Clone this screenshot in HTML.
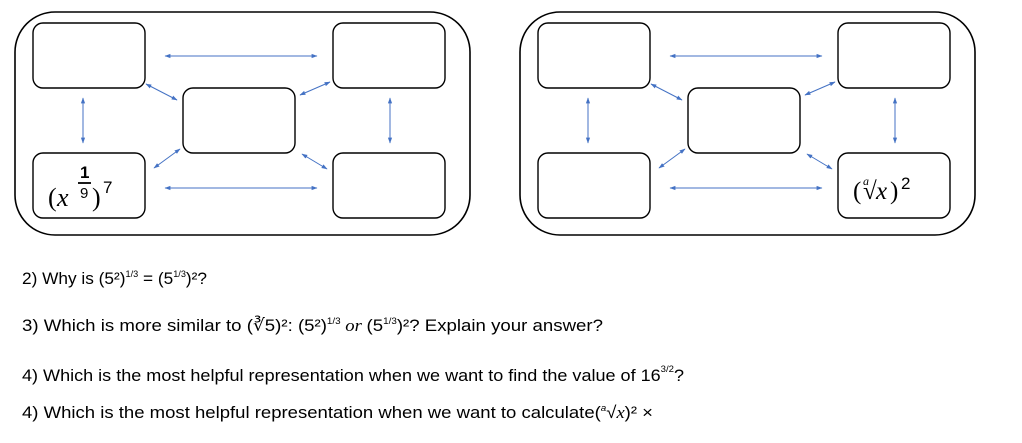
<!DOCTYPE html>
<html><head><meta charset="utf-8"><style>
html,body{margin:0;padding:0;background:#fff;width:1022px;height:443px;overflow:hidden}
svg{display:block}
text{font-family:"Liberation Sans",sans-serif}
.m{font-family:"Liberation Serif",serif}
</style></head><body>
<svg width="1022" height="443" viewBox="0 0 1022 443" xmlns="http://www.w3.org/2000/svg">
<defs>
<marker id="a" viewBox="0 0 10 10" refX="9" refY="5" markerWidth="6" markerHeight="6" orient="auto-start-reverse"><path d="M0,1.5 L10,5 L0,8.5 z" fill="#4472c4"/></marker>
<g id="d">
<rect x="15" y="12" width="455" height="223" rx="40" fill="none" stroke="#000" stroke-width="1.6"/>
<rect x="33" y="23" width="112" height="65" rx="10" fill="none" stroke="#000" stroke-width="1.4"/>
<rect x="183" y="88" width="112" height="65" rx="10" fill="none" stroke="#000" stroke-width="1.4"/>
<rect x="333" y="23" width="112" height="65" rx="10" fill="none" stroke="#000" stroke-width="1.4"/>
<rect x="33" y="153" width="112" height="65" rx="10" fill="none" stroke="#000" stroke-width="1.4"/>
<rect x="333" y="153" width="112" height="65" rx="10" fill="none" stroke="#000" stroke-width="1.4"/>
<g stroke="#4472c4" stroke-width="1" marker-start="url(#a)" marker-end="url(#a)">
<line x1="165" y1="56" x2="317" y2="56"/>
<line x1="165" y1="188" x2="317" y2="188"/>
<line x1="83" y1="98" x2="83" y2="143"/>
<line x1="390" y1="98" x2="390" y2="143"/>
<line x1="146" y1="84" x2="177" y2="100"/>
<line x1="300" y1="95" x2="330" y2="82"/>
<line x1="154" y1="168" x2="180" y2="149"/>
<line x1="302" y1="154" x2="327" y2="169"/>
</g>
</g>
</defs>
<use href="#d"/>
<use href="#d" x="505"/>
<text class="m" x="48" y="206" font-size="26">(</text>
<text class="m" x="57" y="206" font-size="26" font-style="italic">x</text>
<text x="80" y="178" font-size="17" font-weight="bold">1</text>
<line x1="78" y1="183" x2="91" y2="183" stroke="#000" stroke-width="1.8"/>
<text x="80" y="198" font-size="15">9</text>
<text class="m" x="92" y="206" font-size="26">)</text>
<text x="103" y="193" font-size="17">7</text>
<text class="m" x="853" y="199" font-size="25">(</text>
<text class="m" x="863" y="185" font-size="12" font-style="italic">a</text>
<text class="m" x="863" y="199" font-size="25">√</text>
<text class="m" x="876" y="199" font-size="25" font-style="italic">x</text>
<text class="m" x="890" y="199" font-size="25">)</text>
<text x="901" y="189" font-size="17">2</text>
<g font-size="17" fill="#000">
<text x="22" y="284" textLength="185" lengthAdjust="spacingAndGlyphs">2) Why is (5²)<tspan font-size="9" dy="-7">1/3</tspan><tspan dy="7"> = (5</tspan><tspan font-size="9" dy="-7">1/3</tspan><tspan dy="7">)²?</tspan></text>
<text x="22" y="331" textLength="581" lengthAdjust="spacingAndGlyphs">3) Which is more similar to (∛5)²: (5²)<tspan font-size="9" dy="-7">1/3</tspan><tspan dy="7" class="m" font-style="italic"> or </tspan><tspan dy="0">(5</tspan><tspan font-size="9" dy="-7">1/3</tspan><tspan dy="7">)²? Explain your answer?</tspan></text>
<text x="22" y="381" textLength="662" lengthAdjust="spacingAndGlyphs">4) Which is the most helpful representation when we want to find the value of 16<tspan font-size="9" dy="-9">3/2</tspan><tspan dy="9">?</tspan></text>
<text x="22" y="418" textLength="631" lengthAdjust="spacingAndGlyphs">4) Which is the most helpful representation when we want to calculate(<tspan font-size="9" dy="-7" font-style="italic">a</tspan><tspan dy="7">√</tspan><tspan font-style="italic" class="m">x</tspan>)² ×</text>
</g>
</svg>
</body></html>
